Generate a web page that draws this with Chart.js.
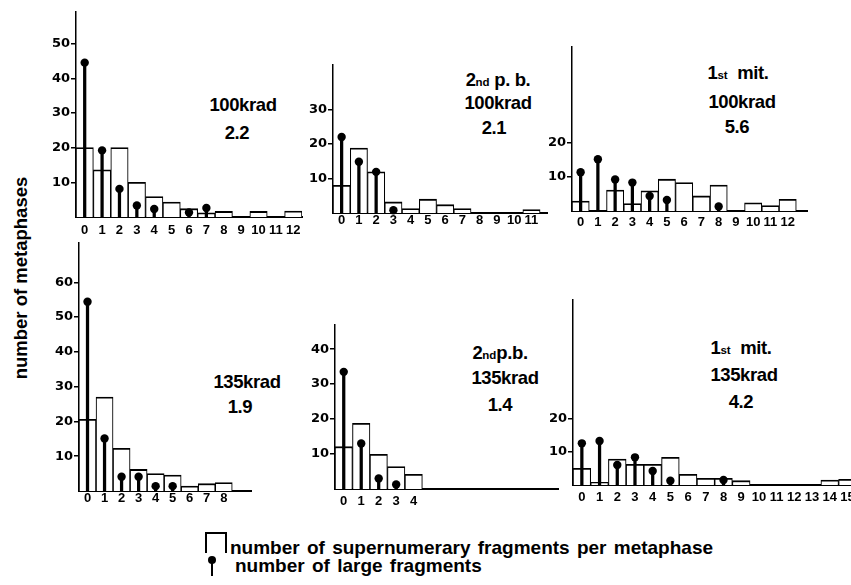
<!DOCTYPE html>
<html><head><meta charset="utf-8">
<script src="https://cdn.jsdelivr.net/npm/chart.js@4.4.1/dist/chart.umd.min.js"></script>
<style>
html,body{margin:0;padding:0;background:#fff;width:851px;height:585px;overflow:hidden;position:relative;}
.box{position:absolute;}
.t{position:absolute;transform:translate(-50%,-50%);font-family:"Liberation Sans",Arial,sans-serif;font-weight:bold;font-size:18.5px;line-height:1;white-space:nowrap;color:#000;letter-spacing:-0.4px}
.t small{font-size:11.5px;letter-spacing:0}
.lg{position:absolute;font-family:"Liberation Sans",Arial,sans-serif;font-weight:bold;font-size:19px;line-height:1;white-space:nowrap;color:#000;word-spacing:2px}
#ytitle{position:absolute;left:21.4px;top:278px;transform:translate(-50%,-50%) rotate(-90deg);font-family:"Liberation Sans",Arial,sans-serif;font-weight:bold;font-size:18.5px;line-height:1;white-space:nowrap;color:#000}
</style></head><body>
<div id="ytitle">number of metaphases</div>

<div class="t" style="left:243px;top:105px">100krad</div>
<div class="t" style="left:237px;top:133px">2.2</div>

<div class="t" style="left:498px;top:80px">2<small>nd</small> p. b.</div>
<div class="t" style="left:498px;top:103px">100krad</div>
<div class="t" style="left:494px;top:128px">2.1</div>

<div class="t" style="left:738px;top:73px">1<small>st</small>&nbsp; mit.</div>
<div class="t" style="left:742px;top:102px">100krad</div>
<div class="t" style="left:737px;top:127px">5.6</div>

<div class="t" style="left:247px;top:382px">135krad</div>
<div class="t" style="left:240px;top:407px">1.9</div>

<div class="t" style="left:500px;top:353px">2<small>nd</small>p.b.</div>
<div class="t" style="left:505px;top:378px">135krad</div>
<div class="t" style="left:500px;top:405px">1.4</div>

<div class="t" style="left:741px;top:348px">1<small>st</small>&nbsp; mit.</div>
<div class="t" style="left:744px;top:375px">135krad</div>
<div class="t" style="left:741px;top:402px">4.2</div>

<div style="position:absolute;left:205px;top:532px;width:18px;height:19px;border:2px solid #000;border-bottom:none;"></div>
<div style="position:absolute;left:208px;top:556px;width:8px;height:8px;border-radius:50%;background:#000;"></div>
<div style="position:absolute;left:210.8px;top:560px;width:2.5px;height:16px;background:#000;"></div>
<div class="lg" style="left:230px;top:538px">number of supernumerary fragments per metaphase</div>
<div class="lg" style="left:235px;top:556px">number of large fragments</div>

<script>
// ---------- data ----------
// Panel 1: 100 krad
const p1Categories = [0,1,2,3,4,5,6,7,8,9,10,11,12];
const p1Supernumerary = [20,13.6,20,10,5.9,4.3,2.4,1.2,1.6,0,1.6,0,1.7];
const p1Large = [44.5,19.2,8.1,3.3,2.3,null,1.3,2.6,null,null,null,null,null];
const p1YTicks = [10,20,30,40,50];

// Panel 2: 2nd p.b. 100 krad
const p2Categories = [0,1,2,3,4,5,6,7,8,9,10,11];
const p2Supernumerary = [8,18.8,11.9,3.2,1.3,4,2.4,1.3,0,0,0,1];
const p2Large = [22,14.8,11.9,0.8,null,null,null,null,null,null,null,null];
const p2YTicks = [10,20,30];

// Panel 3: 1st mit. 100 krad
const p3Categories = [0,1,2,3,4,5,6,7,8,9,10,11,12];
const p3Supernumerary = [2.9,0,6.1,2.2,5.9,9.3,8.3,4.4,7.6,0,2.4,1.6,3.4];
const p3Large = [11.3,15.1,9.2,8.3,4.4,3.2,null,null,1.3,null,null,null,null];
const p3YTicks = [10,20];

// Panel 4: 135 krad
const p4Categories = [0,1,2,3,4,5,6,7,8];
const p4Supernumerary = [20.6,27,12.3,6.2,5,4.6,1.4,2.1,2.4];
const p4Large = [54.4,15.1,4.1,4.1,1.4,1.4,null,null,null];
const p4YTicks = [10,20,30,40,50,60];

// Panel 5: 2nd p.b. 135 krad
const p5Categories = [0,1,2,3,4];
const p5Supernumerary = [12.1,18.8,9.9,6.4,4.2];
const p5Large = [33.5,13,3,1.3,null];
const p5YTicks = [10,20,30,40];

// Panel 6: 1st mit. 135 krad
const p6Categories = [0,1,2,3,4,5,6,7,8,9,10,11,12,13,14,15];
const p6Supernumerary = [5,0.8,7.8,6.2,6.2,8.3,3.2,2,2,1.3,0,0,0,0,1.5,1.7];
const p6Large = [12.5,13.2,6,8.3,4.2,1.3,null,null,1.5,null,null,null,null,null,null,null];
const p6YTicks = [10,20];

// ---------- layout (page pixel geometry of each plot area) ----------
const layouts = [
  {left:76,  right:302, top:12,  bottom:217, xMin:-0.5, xMax:12.5,  yMax:59.1, xPad:6},
  {left:333, right:547, top:65,  bottom:213, xMin:-0.5, xMax:11.9,  yMax:42.8, xPad:0},
  {left:572, right:807, top:47,  bottom:211, xMin:-0.5, xMax:13.12, yMax:47.9, xPad:4},
  {left:79,  right:251, top:243, bottom:491, xMin:-0.5, xMax:9.6,   yMax:71.3, xPad:0},
  {left:335, right:558, top:325, bottom:489, xMin:-0.5, xMax:12.26, yMax:46.9, xPad:5},
  {left:573, right:851, top:300, bottom:485, xMin:-0.5, xMax:15.2,  yMax:55.5, xPad:5}
];

const YW = 40, PT = 12, PR = 14, XH = 26;
const yTickFont = {family:'"DejaVu Sans", sans-serif', weight:'bold', size:13};
const xTickFont = {family:'"Liberation Sans", Arial, sans-serif', weight:'bold', size:13};

function makePanel(L, cats, supern, large, yTicks) {
  const div = document.createElement('div');
  div.className = 'box';
  div.style.left = (L.left - YW) + 'px';
  div.style.top = (L.top - PT) + 'px';
  div.style.width = (L.right - L.left + YW + PR) + 'px';
  div.style.height = (L.bottom - L.top + PT + XH) + 'px';
  const c = document.createElement('canvas');
  div.appendChild(c);
  document.body.appendChild(div);
  const largePts = cats.map((x,i) => ({x:x, y:large[i]}));
  const barPts = cats.map((x,i) => ({x:x, y: supern[i] ? supern[i] : null}));
  new Chart(c, {
    type:'bar',
    data:{datasets:[
      {type:'line', data:largePts, showLine:false, pointRadius:4.2, pointHoverRadius:4.2,
       pointBackgroundColor:'#000', pointBorderWidth:0, clip:false, order:1},
      {type:'bar', data:largePts, backgroundColor:'#000', barThickness:2.6, grouped:false, order:2},
      {type:'bar', data:barPts, backgroundColor:'#fff', borderColor:'#000',
       borderWidth:{top:1.8,left:1.1,right:1.1,bottom:0}, borderSkipped:'start',
       categoryPercentage:1, barPercentage:1, grouped:false, order:3}
    ]},
    options:{
      responsive:true, maintainAspectRatio:false, animation:false,
      layout:{padding:{top:PT,right:PR,left:0,bottom:0}},
      plugins:{legend:{display:false}, tooltip:{enabled:false}},
      events:[],
      scales:{
        x:{type:'linear', min:L.xMin, max:L.xMax, offset:false,
           afterBuildTicks: s => { s.ticks = cats.map(v => ({value:v})); },
           afterFit: s => { s.height = XH; },
           grid:{display:false, drawTicks:false},
           border:{display:true, color:'#000', width:2},
           ticks:{autoSkip:false, maxRotation:0, minRotation:0, padding:L.xPad, color:'#000',
                  font:xTickFont, callback: v => String(v)}},
        y:{type:'linear', min:0, max:L.yMax,
           afterBuildTicks: s => { s.ticks = yTicks.map(v => ({value:v})); },
           afterFit: s => { s.width = YW; },
           grid:{display:true, drawOnChartArea:false, drawTicks:true, tickLength:5, color:'#000', lineWidth:1.5},
           border:{display:true, color:'#000', width:1.5},
           ticks:{padding:1, color:'#000', font:yTickFont, callback: v => String(v)}}
      }
    }
  });
}

makePanel(layouts[0], p1Categories, p1Supernumerary, p1Large, p1YTicks);
makePanel(layouts[1], p2Categories, p2Supernumerary, p2Large, p2YTicks);
makePanel(layouts[2], p3Categories, p3Supernumerary, p3Large, p3YTicks);
makePanel(layouts[3], p4Categories, p4Supernumerary, p4Large, p4YTicks);
makePanel(layouts[4], p5Categories, p5Supernumerary, p5Large, p5YTicks);
makePanel(layouts[5], p6Categories, p6Supernumerary, p6Large, p6YTicks);
</script>
</body></html>
